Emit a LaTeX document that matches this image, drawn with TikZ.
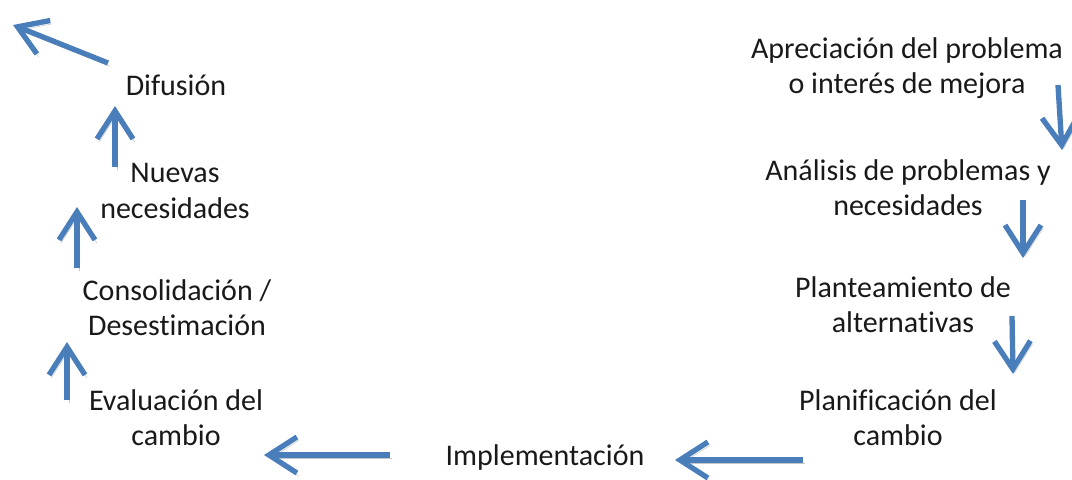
\documentclass[tikz,border=0pt]{standalone}
\usepackage{fontspec}
\setmainfont{Carlito}[Ligatures=NoCommon]
\usepackage{xcolor}
\usetikzlibrary{arrows.meta}

\definecolor{cycleblue}{HTML}{4A7EBB}

\begin{document}
\begin{tikzpicture}[
  x=0.75pt, y=-0.75pt,
  stage/.style={align=center,inner sep=0pt,text=black!90,font=\fontsize{22.5}{26.5}\selectfont},
  arrow/.style={-{Straight Barb[length=21pt,width=27pt]},line width=4pt,draw=cycleblue,
    preaction={draw=black!22,transform canvas={shift={(1.5pt,-2.5pt)}}}}
]
  \useasboundingbox (0,0) rectangle (1072,479);

  \node[stage] (apreciacion) at (907,68) {Apreciación del problema\\o interés de mejora};
  \node[stage] (analisis) at (908,188) {Análisis de problemas y\\necesidades};
  \node[stage] (planteamiento) at (903,305) {Planteamiento de\\alternativas};
  \node[stage] (planificacion) at (898,418) {Planificación del\\cambio};
  \node[stage] (implementacion) at (545,457) {Implementación};
  \node[stage] (evaluacion) at (176,418) {Evaluación del\\cambio};
  \node[stage] (consolidacion) at (177,308) {Consolidación /\\Desestimación};
  \node[stage] (nuevas) at (175,191) {Nuevas\\necesidades};
  \node[stage] (difusion) at (176,85) {Difusión};

  \coordinate (a1s) at (1058,85);  \coordinate (a1e) at (1062,150);
  \coordinate (a2s) at (1023,200); \coordinate (a2e) at (1023,258);
  \coordinate (a3s) at (1012,316); \coordinate (a3e) at (1013,374);
  \coordinate (a4s) at (803,460);  \coordinate (a4e) at (675,460);
  \coordinate (a5s) at (390,455);  \coordinate (a5e) at (264,455);
  \coordinate (a6s) at (67,400);   \coordinate (a6e) at (67,342);
  \coordinate (a7s) at (77,268);   \coordinate (a7e) at (77,207);
  \coordinate (a8s) at (115,167);  \coordinate (a8e) at (115,106);
  \coordinate (a9s) at (108,63);   \coordinate (a9e) at (13,25);

  \draw[arrow] (a1s) -- (a1e);
  \draw[arrow] (a2s) -- (a2e);
  \draw[arrow] (a3s) -- (a3e);
  \draw[arrow] (a4s) -- (a4e);
  \draw[arrow] (a5s) -- (a5e);
  \draw[arrow] (a6s) -- (a6e);
  \draw[arrow] (a7s) -- (a7e);
  \draw[arrow] (a8s) -- (a8e);
  \draw[arrow] (a9s) -- (a9e);
\end{tikzpicture}
\end{document}
